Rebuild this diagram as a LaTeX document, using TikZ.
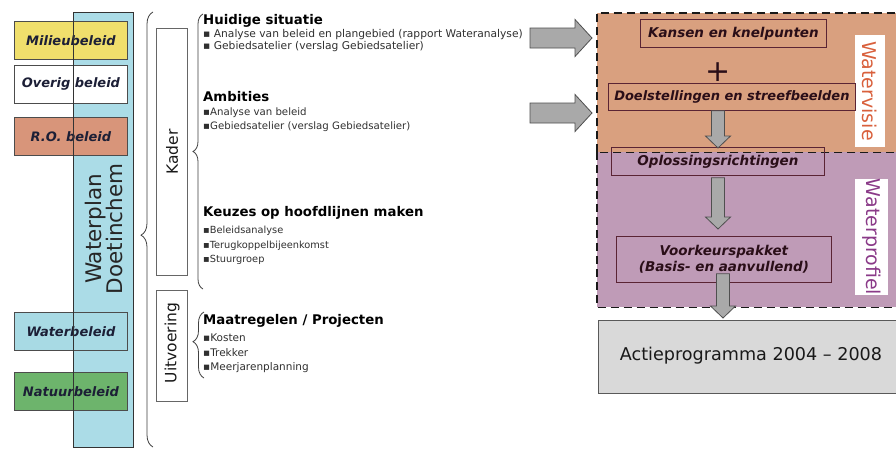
\documentclass[tikz,border=0pt]{standalone}
\usepackage{fontspec}
\setmainfont{DejaVu Sans}
\usetikzlibrary{calc,decorations.pathreplacing}
\definecolor{colblue}{HTML}{ABDCE7}
\definecolor{milieu}{HTML}{F0DF6C}
\definecolor{robel}{HTML}{D8957A}
\definecolor{waterb}{HTML}{A8DAE4}
\definecolor{natuur}{HTML}{6DB46C}
\definecolor{visiec}{HTML}{D9A07F}
\definecolor{profc}{HTML}{BF9BB7}
\definecolor{actiec}{HTML}{D9D9D9}
\definecolor{arrfill}{HTML}{A9A9A9}
\definecolor{arrbrd}{HTML}{4F4F4F}
\definecolor{lboxtxt}{HTML}{1C1F36}
\definecolor{iboxtxt}{HTML}{2A0E18}
\definecolor{iboxbrd}{HTML}{5A2434}
\definecolor{visietxt}{HTML}{D9603C}
\definecolor{proftxt}{HTML}{8A3A88}
\definecolor{bultxt}{HTML}{303030}
\begin{document}
\begin{tikzpicture}[x=1pt,y=-1pt,
  lbox/.style={draw=black!70, line width=0.9, minimum width=113, minimum height=37.5, inner sep=0, anchor=north west, text=lboxtxt, font=\fontsize{13}{15}\selectfont\bfseries\itshape},
  vbox/.style={draw=black!60, fill=white, line width=0.9, inner sep=0, anchor=north west},
  vlabel/.style={rotate=90, font=\fontsize{15.5}{17}\selectfont, text=black!90},
  head/.style={anchor=west, inner sep=0, font=\fontsize{13.3}{15}\selectfont\bfseries, text=black},
  bul/.style={anchor=west, inner sep=0, text=bultxt},
  bracestyle/.style={draw=black!75, line width=0.8, decorate},
  region/.style={inner sep=0, anchor=north west, minimum width=310},
  dashb/.style={draw=black!90, line width=1.8, dash pattern=on 8pt off 5pt},
  ibox/.style={draw=iboxbrd, line width=0.8, inner sep=0, text=iboxtxt, font=\fontsize{13.5}{16}\selectfont\bfseries\itshape, align=center},
  rarrow/.style={draw=arrbrd, fill=arrfill, line width=0.8, to path={let \p1=(\tikztostart), \p2=(\tikztotarget) in (\x1,\y1+10pt) -- (\x2-17pt,\y1+10pt) -- (\x2-17pt,\y1+18.5pt) -- (\x2,\y1) -- (\x2-17pt,\y1-18.5pt) -- (\x2-17pt,\y1-10pt) -- (\x1,\y1-10pt) -- cycle}},
  darrow/.style={draw=arrbrd, fill=arrfill, line width=0.8, to path={let \p1=(\tikztostart), \p2=(\tikztotarget) in (\x1-6.5pt,\y1) -- (\x1-6.5pt,\y2+12pt) -- (\x1-12.5pt,\y2+12pt) -- (\x1,\y2) -- (\x1+12.5pt,\y2+12pt) -- (\x1+6.5pt,\y2+12pt) -- (\x1+6.5pt,\y1) -- cycle}},
  sidelabel/.style={rotate=-90, fill=white, inner sep=0, font=\fontsize{19}{21}\selectfont}
]
\useasboundingbox (0,0) rectangle (896,450);
\fill[white] (0,0) rectangle (896,450);

% ---------- left column ----------
\node (col) [fill=colblue, minimum width=60, minimum height=435, inner sep=0, anchor=north west] at (73,12) {};
\node (milieu) [lbox, fill=milieu] at (14,21) {Milieubeleid};
\node (overig) [lbox, fill=white] at (14,65) {Overig beleid};
\node (ro) [lbox, fill=robel] at (14,117) {R.O. beleid};
\node (waterb) [lbox, fill=waterb] at (14,312) {Waterbeleid};
\node (natuur) [lbox, fill=natuur] at (14,372) {Natuurbeleid};
\draw[black!80, line width=1] (col.north west) rectangle (col.south east);
\node (wpd) [rotate=90, align=center, font=\fontsize{21.5}{18}\selectfont, text=black!85] at (104,229) {Waterplan\\Doetinchem};

% ---------- braces ----------
\draw[bracestyle, decoration={brace, amplitude=12pt, aspect=0.513, mirror}] (153,12) -- (153,447);
\draw[bracestyle, decoration={brace, amplitude=10pt, aspect=0.5, mirror}] (203,14) -- (203,289);
\draw[bracestyle, decoration={brace, amplitude=11pt, aspect=0.45, mirror}] (204,312) -- (204,378);

% ---------- Kader / Uitvoering ----------
\node (kader) [vbox, minimum width=31, minimum height=247] at (156,28) {};
\node (kadert) [vlabel] at (172,152) {Kader};
\node (uitv) [vbox, minimum width=31, minimum height=111] at (156,290) {};
\node (uitvt) [vlabel] at (172,343) {Uitvoering};

% ---------- text blocks ----------
\node (h1) [head] at (203,21) {Huidige situatie};
\node (h1a) [bul, font=\fontsize{10.7}{12}\selectfont] at (203,34.5) {▪ Analyse van beleid en plangebied (rapport Wateranalyse)};
\node (h1b) [bul, font=\fontsize{10.7}{12}\selectfont] at (203,46.5) {▪ Gebiedsatelier (verslag Gebiedsatelier)};
\node (h2) [head] at (203,97) {Ambities};
\node (h2a) [bul, font=\fontsize{10.2}{12}\selectfont] at (203,113) {▪Analyse van beleid};
\node (h2b) [bul, font=\fontsize{10.2}{12}\selectfont] at (203,127) {▪Gebiedsatelier (verslag Gebiedsatelier)};
\node (h3) [head] at (203,213) {Keuzes op hoofdlijnen maken};
\node (h3a) [bul, font=\fontsize{9.8}{12}\selectfont] at (203,231) {▪Beleidsanalyse};
\node (h3b) [bul, font=\fontsize{9.8}{12}\selectfont] at (203,246) {▪Terugkoppelbijeenkomst};
\node (h3c) [bul, font=\fontsize{9.8}{12}\selectfont] at (203,260) {▪Stuurgroep};
\node (h4) [head] at (203,321) {Maatregelen / Projecten};
\node (h4a) [bul, font=\fontsize{10.5}{12}\selectfont] at (203,338) {▪Kosten};
\node (h4b) [bul, font=\fontsize{10.5}{12}\selectfont] at (203,353) {▪Trekker};
\node (h4c) [bul, font=\fontsize{10.5}{12}\selectfont] at (203,368) {▪Meerjarenplanning};

% ---------- right panel ----------
\node (profiel) [region, fill=profc, minimum height=155] at (597,152) {};
\node (visie) [region, fill=visiec, minimum height=139] at (597,13) {};
\draw[dashb] (profiel.north west) -- (profiel.south west) -- (profiel.south east);
\draw[dashb] (visie.south east) -- (visie.south west);
\draw[dashb] (visie.south west) -- (visie.north west) -- (visie.north east);
\node (actie) [draw=black!65, fill=actiec, line width=0.9, minimum width=310, minimum height=73, inner sep=0, anchor=north west] at (598,320) {};
\node (actiet) [font=\fontsize{17.6}{20}\selectfont, text=black!90] at (751,356) {Actieprogramma 2004 -- 2008};

\node (vislab) [sidelabel, minimum width=112, minimum height=30, text=visietxt] at (870,91) {Watervisie};
\node (proflab) [sidelabel, minimum width=115, minimum height=33, text=proftxt] at (871.5,237) {Waterprofiel};

\node (kansen) [ibox, minimum width=186, minimum height=28, anchor=north west] at (640,19) {Kansen en knelpunten};
\node (plus) [font=\fontsize{30}{30}\selectfont, text=iboxtxt, inner sep=0] at (718,72) {+};
\node (doel) [ibox, minimum width=247, minimum height=27, anchor=north west, font=\fontsize{13}{15}\selectfont\bfseries\itshape] at (608,83) {Doelstellingen en streefbeelden};
\node (oplos) [ibox, minimum width=213, minimum height=28, anchor=north west] at (611,147) {Oplossingsrichtingen};
\node (voork) [ibox, minimum width=215, minimum height=46, anchor=north west] at (616,236) {Voorkeurspakket\\(Basis- en aanvullend)};

% ---------- block arrows ----------
\coordinate (a1) at (530,38);
\coordinate (a2) at (530,113);
\path[rarrow] (a1) to ($(visie.west |- a1)+(-5,0)$);
\path[rarrow] (a2) to ($(visie.west |- a2)+(-5,0)$);
\path[darrow] (plus |- doel.south) to ($(plus |- oplos.north)+(0,1)$);
\path[darrow] ($(plus |- oplos.south)+(0,2)$) to ($(plus |- voork.north)+(0,-7)$);
\path[darrow] ($(plus |- voork.south)+(5,-9)$) to ($(plus |- actie.north)+(5,-2)$);
\end{tikzpicture}
\end{document}
